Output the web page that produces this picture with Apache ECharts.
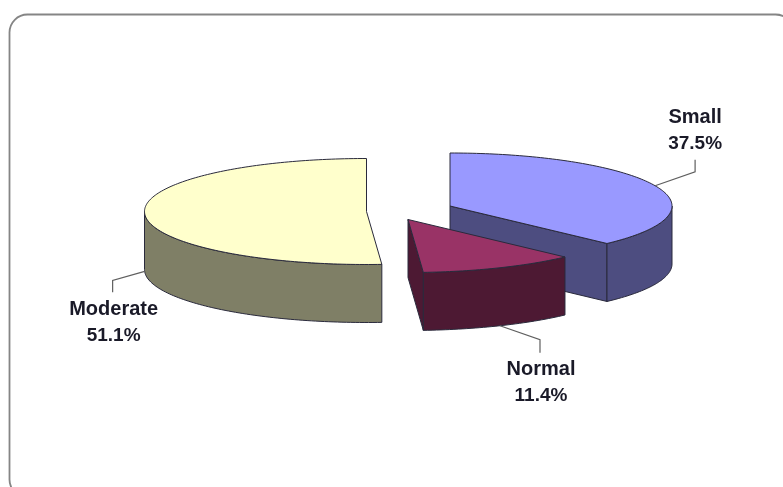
<!DOCTYPE html>
<html>
<head>
<meta charset="utf-8">
<style>html,body{margin:0;padding:0;background:#fff}#chart{width:783px;height:487px}</style>
<script src="https://cdn.jsdelivr.net/npm/echarts@6/dist/echarts.min.js"></script>
</head>
<body>
<div id="chart"></div>
<script>
// Tumour size shares, drawn clockwise from twelve o'clock
const categories = ['Small', 'Normal', 'Moderate'];
const shares = [37.5, 11.4, 51.1];
const topColors = ['#9999ff', '#993366', '#ffffcc'];
const sideColors = ['#4d4d80', '#4d1933', '#7f7f66'];

// Tilted-disc geometry: ellipse radii and extrusion depth
const RX = 222, RY = 53, DEPTH = 58;
// Each wedge is pulled away from the middle on its own apex
const apexes = [[450, 206], [408, 219.5], [366.5, 211.5]];
// Leader bends and label anchors, relative to the rim point at the wedge's mid-angle
const leaders = [
  { fromSide: false, bend: [40, -14], end: [40, -26], label: [40, -81] },
  { fromSide: true, bend: [40, 14], end: [40, 27], label: [41, 31] },
  { fromSide: true, bend: [-32, 9], end: [-32, 21], label: [-31, 25] }
];
const EDGE = '#2a2a3c';

function rim(c, angle) {
  return [c[0] + RX * Math.sin(angle), c[1] - RY * Math.cos(angle)];
}
function arc(c, a0, a1) {
  const n = Math.max(2, Math.ceil(Math.abs(a1 - a0) / 0.02));
  const pts = [];
  for (let i = 0; i <= n; i++) pts.push(rim(c, a0 + (a1 - a0) * i / n));
  return pts;
}
function down(pts) { return pts.map(p => [p[0], p[1] + DEPTH]); }
function face(points, fill) {
  return {
    type: 'polygon',
    shape: { points },
    style: { fill, stroke: EDGE, lineWidth: 1, lineJoin: 'round' }
  };
}
function cutFace(c, angle, fill) {
  const quad = [c, rim(c, angle)];
  return face(quad.concat(down(quad).reverse()), fill);
}

// Paint order keeps the pulled-forward wedge over its neighbour's cut face
const paintOrder = [0, 2, 1];
const total = shares.reduce((s, v) => s + v, 0);
const startAngles = shares.map((_, i) =>
  shares.slice(0, i).reduce((s, v) => s + v, 0) / total * 2 * Math.PI);

function renderWedge(params, api) {
  const i = api.value(0);
  const value = api.value(1);
  const a0 = startAngles[i];
  const a1 = a0 + value / total * 2 * Math.PI;
  const c = apexes[i];
  const children = [];

  // A cut face shows only when it turns toward the viewer
  if (a0 > Math.PI) children.push(cutFace(c, a0, sideColors[i]));
  if (a1 < Math.PI) children.push(cutFace(c, a1, sideColors[i]));

  // Outer wall: the front half of the rim only
  const wallStart = Math.max(a0, Math.PI / 2);
  const wallEnd = Math.min(a1, 3 * Math.PI / 2);
  if (wallEnd > wallStart) {
    const upper = arc(c, wallStart, wallEnd);
    children.push(face(upper.concat(down(upper).reverse()), sideColors[i]));
  }

  // Top face
  children.push(face([c].concat(arc(c, a0, a1)), topColors[i]));

  // Leader line and label
  const mid = (a0 + a1) / 2;
  const l = leaders[i];
  const p = rim(c, mid);
  if (l.fromSide) p[1] += DEPTH;
  children.push({
    type: 'polyline',
    shape: { points: [p, [p[0] + l.bend[0], p[1] + l.bend[1]], [p[0] + l.end[0], p[1] + l.end[1]]] },
    style: { fill: 'none', stroke: '#5f5f5f', lineWidth: 1.2 }
  });
  children.push({
    type: 'text',
    x: p[0] + l.label[0],
    y: p[1] + l.label[1],
    style: {
      text: '{name|' + categories[i] + '}\n{pct|' + value.toFixed(1) + '%}',
      align: 'center',
      verticalAlign: 'top',
      rich: {
        name: { fill: '#1a1a28', font: 'bold 20px "Liberation Sans", Arial, sans-serif', lineHeight: 26, align: 'center' },
        pct: { fill: '#1a1a28', font: 'bold 19px "Liberation Sans", Arial, sans-serif', lineHeight: 26, align: 'center' }
      }
    }
  });
  return { type: 'group', children };
}

const chart = echarts.init(document.getElementById('chart'), null, { renderer: 'canvas' });
chart.setOption({
  animation: false,
  backgroundColor: '#ffffff',
  // Rounded card outline; its right and bottom sides run past the page edge
  graphic: [{
    type: 'rect',
    shape: { x: 9.5, y: 14.5, width: 784, height: 483, r: 18 },
    style: { fill: 'none', stroke: '#858585', lineWidth: 1.8 },
    silent: true
  }],
  series: [{
    type: 'custom',
    coordinateSystem: 'none',
    renderItem: renderWedge,
    data: paintOrder.map(i => [i, shares[i]]),
    silent: true
  }]
});
</script>
</body>
</html>
